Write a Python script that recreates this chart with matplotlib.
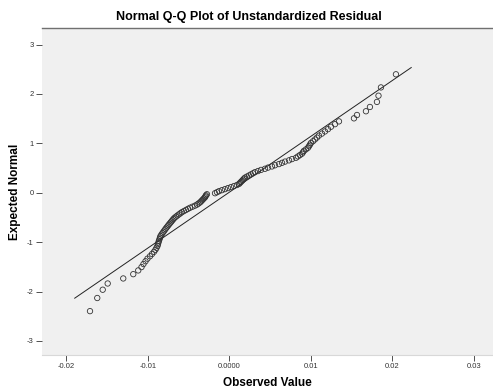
import statistics

import matplotlib
matplotlib.use('Agg')
import matplotlib.pyplot as plt
import numpy as np

# unstandardized residuals, sorted ascending (n = 120)
residuals = [
    -0.01709, -0.01620, -0.01553, -0.01492, -0.01301, -0.01178, -0.01117,
    -0.01077, -0.01053, -0.01028, -0.01004, -0.00973, -0.00948, -0.00924,
    -0.00906, -0.00893, -0.00881, -0.00875, -0.00869, -0.00863, -0.00856,
    -0.00850, -0.00844, -0.00832, -0.00820, -0.00807, -0.00795, -0.00783,
    -0.00771, -0.00758, -0.00746, -0.00734, -0.00721, -0.00709, -0.00697,
    -0.00685, -0.00672, -0.00654, -0.00636, -0.00617, -0.00599, -0.00580,
    -0.00556, -0.00531, -0.00507, -0.00482, -0.00452, -0.00421, -0.00396,
    -0.00378, -0.00360, -0.00347, -0.00335, -0.00323, -0.00311, -0.00298,
    -0.00292, -0.00286, -0.00274,
    -0.00175, -0.00151, -0.00126, -0.00090, -0.00053, -0.00016, 0.00021,
    0.00058, 0.00094, 0.00119, 0.00131, 0.00143, 0.00156, 0.00168,
    0.00180, 0.00193, 0.00217, 0.00242, 0.00266, 0.00291, 0.00315,
    0.00352, 0.00389, 0.00438, 0.00475, 0.00524, 0.00561, 0.00610,
    0.00647, 0.00684, 0.00733, 0.00770, 0.00819, 0.00843, 0.00867,
    0.00892, 0.00904, 0.00916, 0.00941, 0.00965, 0.00978, 0.00990,
    0.01002, 0.01027, 0.01051, 0.01076, 0.01100, 0.01137, 0.01174,
    0.01211, 0.01248, 0.01297, 0.01346, 0.01530, 0.01567, 0.01677,
    0.01726, 0.01812, 0.01831, 0.01861, 0.02045,
]

x_ticks = [-0.02, -0.01, 0.0, 0.01, 0.02, 0.03]
x_tick_labels = ['-0.02', '-0.01', '0.0000', '0.01', '0.02', '0.03']
y_ticks = [3, 2, 1, 0, -1, -2, -3]
y_tick_labels = ['3', '2', '1', '0', '-1', '-2', '-3']

# expected normal values (rank / (n + 1))
obs = np.sort(np.array(residuals))
n = len(obs)
nd = statistics.NormalDist()
expected = np.array([nd.inv_cdf(r / (n + 1)) for r in range(1, n + 1)])

mean = obs.mean()
sd = obs.std(ddof=1)
pad = (obs.max() - obs.min()) * 0.05
line_x = np.array([obs.min() - pad, obs.max() + pad])
line_y = (line_x - mean) / sd

plt.rcParams['font.family'] = ['Liberation Sans', 'DejaVu Sans']

fig = plt.figure(figsize=(4.93, 3.89), dpi=100)
ax = fig.add_axes([42 / 493, 34 / 389, 451 / 493, 327 / 389])
ax.set_facecolor('#f0f0f0')

ax.plot(line_x, line_y, color='#222222', linewidth=0.7, zorder=2)
ax.scatter(obs, expected, s=15, facecolors='none', edgecolors='#333333',
           linewidths=0.6, zorder=3)

ax.set_xlim(-0.02298, 0.03236)
ax.set_ylim(-3.285, 3.334)
ax.set_xticks(x_ticks)
ax.set_xticklabels(x_tick_labels)
ax.set_yticks(y_ticks)
ax.set_yticklabels(y_tick_labels)
ax.tick_params(axis='both', labelsize=5.5, colors='#333333', direction='out',
               length=4, width=0.6, pad=2)

for side in ['left', 'right']:
    ax.spines[side].set_visible(False)
ax.spines['top'].set_color('#707070')
ax.spines['top'].set_linewidth(1.0)
ax.spines['bottom'].set_color('#d8d8d8')
ax.spines['bottom'].set_linewidth(0.8)

fig.suptitle('Normal Q-Q Plot of Unstandardized Residual', x=0.505, y=0.972,
             fontsize=9, fontweight='bold', va='top')
ax.set_xlabel('Observed Value', fontsize=8.5, fontweight='bold', labelpad=5)
ax.set_ylabel('Expected Normal', fontsize=8.5, fontweight='bold', labelpad=4)

fig.savefig('out.png', dpi=100)
